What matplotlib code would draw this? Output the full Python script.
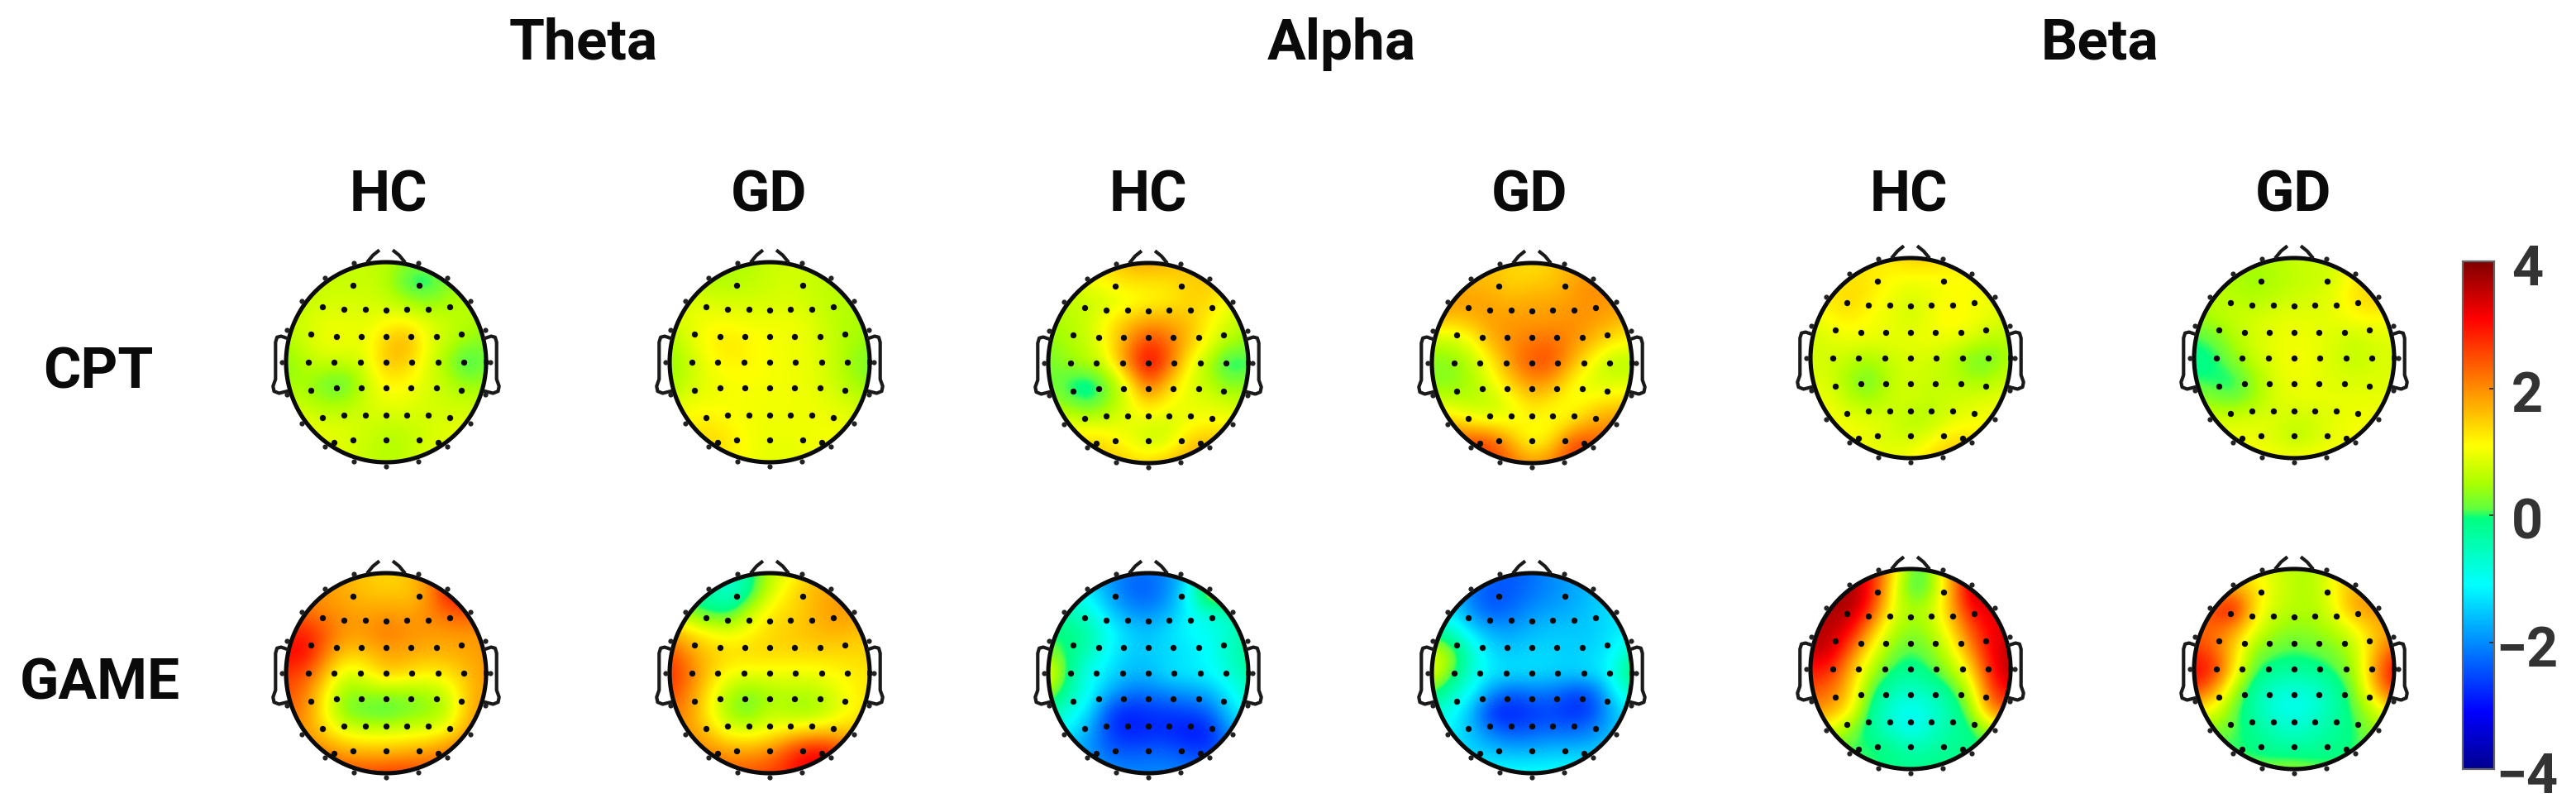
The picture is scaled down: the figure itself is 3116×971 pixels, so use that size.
import numpy as np
import matplotlib
matplotlib.use('Agg')
import matplotlib.pyplot as plt
from matplotlib.colors import LinearSegmentedColormap, Normalize
from matplotlib.cm import ScalarMappable
from matplotlib.patches import Circle
from matplotlib.transforms import ScaledTranslation

W, H = 3116, 971
FONT = 'Roboto'

bands = ['Theta', 'Alpha', 'Beta']
groups = ['HC', 'GD', 'HC', 'GD', 'HC', 'GD']
conditions = ['CPT', 'GAME']
cbar_ticks = [-4, -2, 0, 2, 4]

# scalp values, rows front to back, columns left to right
theta_cpt_hc = [
    [.7, .7, .7, .7, .7, .6, .4, .3, .4, .6, .6],
    [.7, .7, .7, .7, .7, .6, -.1, -.2, .2, .6, .6],
    [.7, .7, .8, .8, .8, .7, .5, .3, .5, .6, .6],
    [.7, .8, .95, .95, .9, 1.1, 1.15, .9, .7, .6, .5],
    [.5, .8, 1.0, 1.0, .95, 1.5, 1.8, 1.0, .7, .4, .3],
    [.3, .6, .8, .7, .9, 1.6, 1.5, .95, .4, -.2, .2],
    [.4, .5, .1, .05, .7, 1.2, 1.15, .85, .65, .3, .45],
    [.7, .6, .4, .45, .8, 1.0, .95, .8, .75, .7, .7],
    [.95, .95, .85, .85, .8, .7, .75, .8, .85, .9, .9],
    [1, 1, .95, .85, .7, .55, .6, .8, .9, 1, 1],
    [1, 1, 1, .9, .7, .6, .7, .9, 1, 1, 1],
]
theta_cpt_gd = [
    [.6, .6, .5, .5, .55, .7, .8, .8, .7, .7, .7],
    [.8, .7, .55, .55, .65, .75, .8, .7, .65, .6, .6],
    [.9, .85, .85, .8, .8, .8, .85, .75, .65, .55, .55],
    [.8, .95, 1.05, 1.05, 1.0, 1.0, 1.0, .9, .65, .55, .5],
    [.5, .85, 1.2, 1.3, 1.15, 1.05, 1.0, .95, .75, .5, .4],
    [.35, .7, 1.05, 1.2, 1.15, 1.05, 1.0, .95, .75, .4, .2],
    [.4, .75, .95, 1.05, 1.05, 1.05, 1.0, .95, .8, .5, .3],
    [.8, .95, 1.0, 1.05, 1.05, 1.0, 1.0, 1.0, .9, .8, .6],
    [1.05, 1.2, 1.25, 1.1, 1.0, 1.0, 1.0, 1.0, 1.0, .95, .85],
    [1.1, 1.3, 1.45, 1.3, 1.05, .95, .95, 1.0, 1.05, 1.0, 1],
    [1.1, 1.2, 1.2, 1.1, 1.0, .9, .9, 1, 1, 1, 1],
]
alpha_cpt_hc = [
    [1.5, 1.3, 1.2, 1.4, 1.7, 1.8, 1.7, 1.5, 1.4, 1.4, 1.4],
    [.9, .9, 1.0, 1.2, 1.3, 1.3, 1.3, 1.5, 1.5, 1.3, 1.2],
    [.6, .65, .7, .8, .95, 1.1, 1.2, 1.4, 1.4, 1.0, .8],
    [.45, .6, .75, 1.2, 1.6, 1.9, 1.8, 1.6, 1.15, .8, .55],
    [.35, .5, .7, 1.2, 2.0, 2.7, 2.3, 1.6, 1.0, .5, .35],
    [.2, .4, .6, .95, 2.2, 3.3, 2.4, 1.1, .5, -.25, 0],
    [.2, -.05, -.3, .2, 1.1, 2.5, 1.5, .9, .6, .2, .3],
    [.45, .2, -.1, .35, .9, 1.5, 1.05, .95, .9, .75, .7],
    [1.0, .95, .85, .85, .95, .85, .8, 1.0, 1.1, 1.1, 1.0],
    [1.3, 1.3, 1.4, 1.3, 1.0, .7, .8, 1.5, 1.7, 1.5, 1.4],
    [1.5, 1.5, 1.6, 1.6, 1.5, 1.4, 1.7, 1.8, 1.7, 1.5, 1.5],
]
alpha_cpt_gd = [
    [1.5, 1.5, 1.6, 1.6, 1.4, 1.3, 1.5, 1.7, 1.8, 1.8, 1.8],
    [1.9, 1.8, 1.6, 1.6, 1.4, 1.5, 1.5, 1.8, 2.0, 1.9, 1.9],
    [2.0, 1.9, 1.9, 1.8, 1.7, 1.8, 1.8, 1.9, 2.0, 1.9, 1.8],
    [1.6, 1.4, 1.6, 1.9, 1.9, 1.9, 1.9, 2.0, 1.9, 1.7, 1.5],
    [.6, .65, 1.0, 1.7, 2.0, 2.2, 2.3, 2.0, 1.6, 1.2, 1.1],
    [.3, .3, .6, 1.2, 2.0, 2.5, 2.5, 1.7, 1.0, .55, .55],
    [.3, .3, .5, .95, 1.5, 2.0, 1.8, 1.1, .8, .8, .9],
    [.8, .7, .6, .65, .95, 1.4, 1.2, 1.0, 1.2, 1.4, 1.4],
    [1.7, 1.5, 1.2, 1.05, 1.05, 1.1, 1.0, 1.3, 1.8, 2.0, 2.0],
    [2.5, 2.5, 2.7, 2.6, 1.7, 1.0, 1.4, 2.6, 2.5, 2.2, 2.2],
    [2.5, 2.5, 2.6, 2.6, 2.3, 1.9, 2.2, 2.6, 2.6, 2.4, 2.4],
]
beta_cpt_hc = [
    [1.2, 1.2, 1.2, 1.2, 1.3, 1.5, 1.5, 1.3, 1.2, 1, 1],
    [1.2, 1.2, 1.3, 1.3, 1.1, 1.05, 1.05, 1.1, 1.1, 1, .95],
    [1.15, 1.25, 1.45, 1.2, 1.0, .8, .95, 1.1, 1.05, 1, .9],
    [.95, 1.15, 1.25, 1.05, .95, .75, 1.0, 1.2, 1.05, .95, .85],
    [.75, .9, 1, 1, .95, .95, 1, 1, .9, .6, .65],
    [.8, .8, .7, .5, .75, .85, .8, .6, .2, .15, .55],
    [.85, .8, .35, .15, .65, .8, .7, .65, .4, .45, .8],
    [1, .95, .55, .35, .75, .8, .65, .75, .8, .9, 1],
    [1.05, 1.05, .95, .9, .8, .55, .6, .85, 1, 1.05, 1.05],
    [1.05, 1.05, 1.05, .95, .8, .75, .95, 1.3, 1.3, 1.1, 1.05],
    [1, 1, 1, 1, .95, 1.1, 1.4, 1.7, 1.5, 1.1, 1.05],
]
beta_cpt_gd = [
    [.7, .7, .6, .55, .6, .7, .75, .8, 1, 1.1, 1.1],
    [.7, .6, .5, .4, .5, .65, .7, .8, 1.25, 1.35, 1.2],
    [.65, .65, .6, .5, .65, .75, .8, .95, 1.3, 1.5, 1.3],
    [.4, .55, .75, .8, .9, .95, .9, .95, 1.1, 1.15, 1.05],
    [0, .15, .55, .8, .95, 1, .95, .85, .7, .85, .9],
    [-.15, -.1, .35, .75, .95, 1.05, 1.0, .8, .65, .8, .85],
    [-.05, -.05, -.1, .4, .85, 1, .95, .85, .8, .85, .85],
    [.35, .2, .05, .4, .85, .95, .95, .95, .95, .95, .95],
    [.8, .8, .8, .85, .85, .75, .8, .9, 1, 1, 1],
    [1, 1, 1, 1, .85, .55, .75, 1, 1.05, 1.05, 1.05],
    [1.05, 1.05, 1.05, 1.05, 1.05, 1.1, 1.1, 1.05, 1, 1, 1],
]
theta_game_hc = [
    [1.9, 1.9, 1.9, 1.7, 1.5, 1.4, 1.5, 2.0, 2.4, 2.8, 2.8],
    [2.0, 2.0, 1.9, 1.7, 1.55, 1.5, 1.5, 1.8, 3.0, 3.1, 2.8],
    [2.4, 2.2, 2.0, 1.9, 1.8, 1.9, 1.8, 2.0, 2.3, 2.5, 2.3],
    [2.8, 2.9, 2.4, 1.9, 1.95, 2.2, 2.0, 1.9, 1.9, 1.9, 1.9],
    [3.1, 3.1, 2.1, 1.5, 1.6, 1.8, 1.8, 1.7, 1.7, 1.8, 1.9],
    [2.7, 2.5, 1.6, .8, 1.05, 1.6, 1.4, 1.2, 1.3, 1.6, 1.9],
    [2.5, 2.1, 1.1, .3, .4, .35, .35, .45, .7, 1.5, 1.9],
    [2.3, 2.0, 1.0, .2, .05, -.05, .2, .3, .55, 1.6, 2.0],
    [2.0, 1.9, 1.4, 1.0, .9, .9, .95, 1.0, 1.2, 1.8, 2.0],
    [2.3, 2.3, 2.1, 1.8, 1.7, 1.7, 1.8, 1.9, 2.2, 2.4, 2.4],
    [2.6, 2.6, 2.6, 2.6, 2.6, 2.7, 2.7, 2.6, 2.5, 2.5, 2.5],
]
theta_game_gd = [
    [-.2, -.3, -.4, -.7, -.2, .6, 1.0, 1.5, 1.7, 1.7, 1.7],
    [.1, -.2, -.4, -.8, -.2, .8, 1.3, 1.6, 1.8, 1.9, 1.9],
    [.9, .2, -.1, -.1, .7, 1.25, 1.4, 1.6, 1.9, 1.9, 1.8],
    [1.7, 1.4, 1.1, .95, 1.15, 1.4, 1.5, 1.6, 1.7, 1.6, 1.5],
    [2.5, 1.9, 1.5, 1.4, 1.4, 1.4, 1.4, 1.4, 1.4, 1.4, 1.4],
    [2.8, 2.2, 1.5, 1.05, 1.0, 1.05, 1.0, 1.0, 1.1, 1.2, 1.3],
    [2.6, 2.0, 1.2, .5, .25, .45, .6, .5, .8, 1.1, 1.3],
    [2.2, 1.9, 1.1, .35, .15, .7, .45, .4, .7, 1.1, 1.3],
    [2.0, 1.9, 1.5, 1.0, .95, 1.1, 1.4, 1.6, 1.6, 1.6, 1.5],
    [2.2, 2.2, 2.1, 1.9, 1.9, 2.1, 2.7, 3.2, 3.1, 2.4, 2.2],
    [2.4, 2.4, 2.4, 2.4, 2.5, 2.6, 2.9, 3.2, 3.0, 2.6, 2.4],
]
alpha_game_hc = [
    [-1, -1.2, -1.5, -1.9, -2.2, -2.2, -2, -1.4, -.3, .3, .3],
    [-.5, -.8, -1.2, -1.8, -2.3, -2.4, -2, -1.1, 1.0, .7, .3],
    [-.2, -.5, -.8, -1.4, -1.9, -2, -1.7, -1.1, -.8, -.6, -.3],
    [-.1, -.05, -.3, -1.0, -1.4, -1.6, -1.3, -1.1, -1.0, -.7, -.3],
    [.3, -.1, -.5, -1.1, -1.5, -1.5, -1.4, -1.3, -1.1, -.6, -.2],
    [1.2, -.1, -1.0, -1.3, -1.6, -1.6, -1.3, -1.2, -1.1, -.8, -.3],
    [.5, -.4, -1.0, -1.7, -2.2, -2.2, -2, -1.9, -1.7, -1.2, -.6],
    [-.3, -.9, -1.3, -2.6, -2.9, -2.7, -2.7, -2.6, -2.4, -1.5, -1.0],
    [-.9, -1.2, -1.8, -2.6, -2.9, -2.8, -2.8, -3.0, -2.9, -2.0, -1.4],
    [-1.6, -1.7, -1.9, -2.3, -2.4, -2.3, -2.3, -2.5, -2.6, -2.2, -1.9],
    [-1.6, -1.7, -1.8, -1.9, -2.0, -2.0, -2, -2.1, -2.1, -2.1, -2.1],
]
alpha_game_gd = [
    [-1.6, -1.7, -2, -2.3, -2.4, -2.2, -2, -1.8, -1.6, -1.4, -1.3],
    [-1.5, -1.6, -2.2, -2.5, -2.4, -2.2, -2, -1.8, -1.6, -1.4, -1.3],
    [-1.1, -1.3, -2, -2.4, -2.2, -1.9, -1.8, -1.7, -1.5, -1.3, -1.2],
    [-.1, -.6, -1.3, -1.7, -1.8, -1.6, -1.5, -1.5, -1.5, -1.3, -1.2],
    [.9, .4, -.7, -1.4, -1.5, -1.4, -1.4, -1.5, -1.4, -1.2, -.4],
    [1.0, .2, -.8, -1.2, -1.3, -1.3, -1.4, -1.4, -1.3, -1.0, .3],
    [.1, -.6, -1.1, -2.0, -2.4, -2.2, -2.2, -2.6, -2.5, -1.3, -.6],
    [-.7, -1.0, -1.7, -2.9, -2.9, -2.7, -2.6, -2.8, -2.6, -1.7, -1.2],
    [-1.0, -1.2, -1.6, -2.1, -2.4, -2.3, -2.2, -2.2, -2.0, -1.6, -1.3],
    [-1.2, -1.3, -1.4, -1.5, -1.6, -1.6, -1.5, -1.5, -1.5, -1.3, -1.2],
    [-1.1, -1.1, -1.1, -1.1, -1.0, -1.0, -1.0, -1.0, -1.0, -1.0, -1],
]
beta_game_hc = [
    [3.2, 3.4, 3.4, 3.0, 1.6, .1, .2, 2.0, 3, 3.2, 3.2],
    [3.6, 3.7, 3.8, 3.1, 1.3, -.15, .2, 1.7, 3.6, 3.6, 3.4],
    [3.6, 3.7, 3.7, 2.8, 1.0, .5, .7, 1.7, 3.1, 3.3, 3.3],
    [3.6, 3.6, 3.2, 1.8, .7, .3, .55, 1.3, 2.5, 3.2, 3.3],
    [3.6, 3.5, 2.4, 1.1, .3, .05, .25, .9, 2.0, 3.2, 3.5],
    [3.0, 2.9, 1.7, .6, 0, -.2, .05, .45, 1.4, 3.0, 3.7],
    [2.5, 2.3, 1.5, .1, -.4, -.6, -.4, -.05, .7, 2.7, 3.2],
    [2.0, 1.9, 1.2, -.2, -.8, -1.1, -.8, -.4, .3, 2.2, 2.5],
    [1.2, .9, .3, -.3, -.7, -1.1, -.7, -.3, -.15, .6, 1],
    [.3, .2, 0, .05, -.1, -.4, -.3, -.2, -.1, -.1, 0],
    [0, 0, 0, 0, -.1, -.2, -.1, -.1, -.1, 0, 0],
]
beta_game_gd = [
    [1.1, 1.1, 1.3, 1.0, .8, .6, .55, 1.1, 1.6, 1.5, 1.4],
    [1.6, 1.7, 1.7, 1.4, .85, .6, .55, 1.1, 1.7, 1.7, 1.6],
    [2.4, 2.7, 3.2, 1.3, .75, .6, .55, 1.0, 1.9, 2.0, 1.9],
    [2.2, 2.3, 1.9, 1.0, .45, .35, .4, .6, 1.0, 1.6, 1.7],
    [2.7, 2.3, 1.4, .35, .15, .05, .15, .25, .6, 1.6, 2.4],
    [3.1, 2.9, 1.3, .05, -.15, -.2, -.15, .05, .45, 1.9, 3.2],
    [2.8, 2.0, .5, -.3, -.7, -.8, -.7, -.3, .2, 1.7, 2.9],
    [1.3, 1.0, .1, -.4, -.9, -1.05, -.8, -.4, .1, .7, 1.4],
    [.4, .3, .1, -.2, -.5, -.7, -.5, -.25, -.05, .4, .8],
    [0, 0, 0, -.1, -.25, -.3, -.25, -.15, 0, .2, .2],
    [.2, .2, .2, .2, .3, .35, .2, .1, .1, .1, .1],
]

maps = [
    [theta_cpt_hc, theta_cpt_gd, alpha_cpt_hc, alpha_cpt_gd, beta_cpt_hc, beta_cpt_gd],
    [theta_game_hc, theta_game_gd, alpha_game_hc, alpha_game_gd, beta_game_hc, beta_game_gd],
]

# electrode positions on the unit head
elec_x = [-.33, .33,
          -.64, -.425, -.21, 0, .21, .425, .64,
          -.75, -.5, -.25, 0, .25, .5, .75,
          -.78, -.52, -.26, 0, .26, .52, .78,
          -.75, -.5, -.25, 0, .25, .5, .75,
          -.64, -.425, -.21, 0, .21, .425, .64,
          -.52, -.33, 0, .33, .52]
elec_y = [.77, .77,
          .555, .525, .525, .52, .525, .525, .555,
          .285, .26, .26, .26, .26, .26, .285,
          0, 0, 0, 0, 0, 0, 0,
          -.285, -.26, -.26, -.26, -.26, -.26, -.285,
          -.555, -.525, -.525, -.525, -.525, -.525, -.555,
          -.805, -.775, -.78, -.775, -.805]
rim_angles = [18, 36, 54, 72, 90, 108, 126, 144, 162, 180, 198, 216, 234, 252, 270, 288, 306, 324, 342]

# head centres in picture pixels
head_x = [467, 931, 1389, 1853, 2311, 2775]
head_y = [[438, 438, 439, 439, 433, 433], [814, 814, 814, 814, 809, 809]]
head_r = 121

stops = [(-4, '#00008f'), (-3.1, '#0000ff'), (-1.1, '#00ffff'), (-.05, '#00ff80'), (.1, '#60ff40'),
         (.5, '#aaff00'), (1.1, '#ffff00'), (2.1, '#ff8000'), (3.1, '#ff0000'), (4, '#800000')]
cmap = LinearSegmentedColormap.from_list('eeg', [((v + 4) / 8, c) for v, c in stops], N=512)
norm = Normalize(-4, 4)


def box(x0, y0, x1, y1):
    return [x0 / W, 1 - y1 / H, (x1 - x0) / W, (y1 - y0) / H]


def draw_head(fig, cx, cy, values):
    span = 1.35 * head_r
    ax = fig.add_axes(box(cx - span, cy - span, cx + span, cy + span))
    ax.axis('off')

    im = ax.imshow(np.array(values), cmap=cmap, norm=norm, extent=(-1.1, 1.1, -1.1, 1.1),
                   interpolation='bicubic', interpolation_stage='data')
    im.set_clip_path(Circle((0, 0), 1.0, transform=ax.transData))
    ax.set_xlim(-1.35, 1.35)
    ax.set_ylim(-1.35, 1.35)

    t = np.linspace(0, 2 * np.pi, 300)
    ax.plot(np.cos(t), np.sin(t), color='#0a0a0a', lw=3.7)

    for side in (-1, 1):
        ear_x = np.array([.99, 1.05, 1.09, 1.105, 1.105, 1.13, 1.12, 1.07, .99])
        ear_y = np.array([.24, .26, .25, .2, -.17, -.24, -.29, -.31, -.29])
        ax.plot(side * ear_x, ear_y, color='#1a1a1a', lw=3.0)
        nose_x = np.array([.18, .13, .08])
        nose_y = np.array([1.01, 1.07, 1.11])
        ax.plot(side * nose_x, nose_y, color='#1a1a1a', lw=3.0)

    ang = np.radians(rim_angles)
    ax.scatter(1.045 * np.sin(ang), 1.045 * np.cos(ang), s=20, color='#222222', lw=0, zorder=4)
    ax.scatter(elec_x, elec_y, s=28, color='#0a0a0a', lw=0, zorder=5)


def label(fig, x, y, text, **kw):
    fig.text(x / W, 1 - y / H, text, family=FONT, weight='bold', ha='center', **kw)


def main():
    fig = plt.figure(figsize=(W / 100, H / 100), dpi=100, facecolor='white')

    for r in range(2):
        for c in range(6):
            draw_head(fig, head_x[c], head_y[r][c], maps[r][c])

    for x, name in zip([706, 1623, 2540], bands):
        label(fig, x, 72, name, fontsize=50, va='baseline', color='#0a0a0a')
    for x, name in zip([470, 930, 1389, 1850, 2309, 2774], groups):
        label(fig, x, 256, name, fontsize=50, va='baseline', color='#0a0a0a')
    for x, y, name in zip([119, 121], [470, 845], conditions):
        label(fig, x, y, name, fontsize=50, va='baseline', color='#0a0a0a')

    cax = fig.add_axes(box(2979, 316, 3017, 930))
    cb = fig.colorbar(ScalarMappable(norm=norm, cmap=cmap), cax=cax, ticks=cbar_ticks)
    cb.outline.set_edgecolor('#666666')
    cb.outline.set_linewidth(1.6)
    cax.tick_params(direction='in', length=4, width=1.2, color='#222222', pad=29, labelsize=48,
                    labelcolor='#333333')
    offset = ScaledTranslation(0, -4 / 100, fig.dpi_scale_trans)
    for t in cax.get_yticklabels():
        t.set_family(FONT)
        t.set_weight('bold')
        t.set_ha('center')
        t.set_transform(t.get_transform() + offset)

    fig.savefig('out.png', dpi=100, facecolor='white')


if __name__ == "__main__":
    main()
